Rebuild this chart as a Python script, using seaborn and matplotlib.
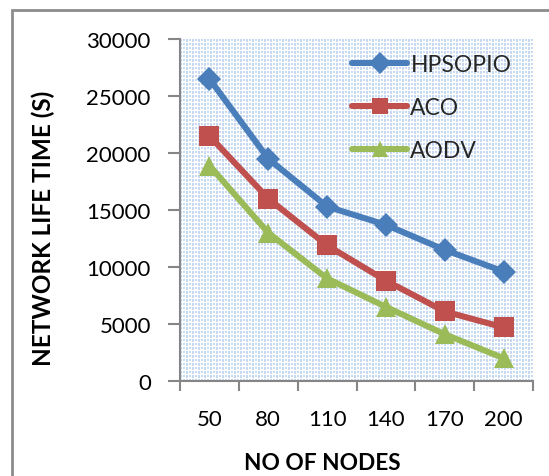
import numpy as np
import pandas as pd
import matplotlib
matplotlib.use("Agg")
import matplotlib.pyplot as plt
from matplotlib.colors import to_hex
from matplotlib.patches import Rectangle
import seaborn as sns

# Data
nodes = ["50", "80", "110", "140", "170", "200"]
hpsopio = [26500, 19500, 15300, 13700, 11500, 9600]
aco = [21500, 16000, 11900, 8800, 6100, 4700]
aodv = [18900, 13000, 9000, 6500, 4100, 2000]
series_names = ["HPSOPIO", "ACO", "AODV"]
y_ticks = [0, 5000, 10000, 15000, 20000, 25000, 30000]

colors = {"HPSOPIO": "#4a7ebb", "ACO": "#c0504d", "AODV": "#9bbb59"}
markers = {"HPSOPIO": "D", "ACO": "s", "AODV": "^"}
marker_sizes = {"HPSOPIO": 12, "ACO": 14, "AODV": 14}

rows = []
for name, vals in zip(series_names, [hpsopio, aco, aodv]):
    for i, v in enumerate(vals):
        rows.append({"pos": i, "nodes": nodes[i], "value": v, "series": name})
df = pd.DataFrame(rows)

sns.set_theme(style="white")
plt.rcParams["font.family"] = ["Lato", "DejaVu Sans"]

W, H = 549, 477
fig = plt.figure(figsize=(W / 100, H / 100), dpi=100)
ax = fig.add_axes([180 / W, 1 - 382 / H, (533 - 180) / W, (382 - 40) / H])

# outer chart border (left and top visible)
fig.patches.append(Rectangle((12 / W, -0.1), 1.2, 1 - 11 / H + 0.1,
                             transform=fig.transFigure, fill=False,
                             edgecolor="#8c8c8c", linewidth=2, zorder=0))

# dotted light-blue fill of the plot area
aw, ah = 353, 342
yy, xx = np.mgrid[0:ah, 0:aw]
cx, cy = xx % 6, yy % 4
mask = ((cx < 2) & (cy < 3)) | (((cx == 3) | (cx == 4)) & (cy < 2))
img = np.ones((ah, aw, 3))
blue = np.array([0xc6, 0xd9, 0xf1]) / 255.0
img[mask] = blue
ax.imshow(img, extent=[-0.5, 5.5, 0, 30000], aspect="auto",
          interpolation="nearest", zorder=0)

sns.lineplot(data=df, x="pos", y="value", hue="series", style="series",
             hue_order=series_names, style_order=series_names,
             palette=colors, markers=markers, dashes=False,
             linewidth=4.4, markersize=12, markeredgewidth=0,
             ax=ax, zorder=3, legend=True)

# per-series marker size
color_to_name = {to_hex(c): n for n, c in colors.items()}
for line in ax.lines:
    name = color_to_name.get(to_hex(line.get_color()))
    if name:
        line.set_markersize(marker_sizes[name])

ax.set_xlim(-0.5, 5.5)
ax.set_ylim(0, 30000)
ax.set_yticks(y_ticks)
ax.set_yticklabels([str(t) for t in y_ticks])
ax.set_xticks(range(len(nodes)))
ax.set_xticklabels(nodes)
ax.set_xticks(np.arange(-0.5, 6, 1), minor=True)

for s in ["top", "right"]:
    ax.spines[s].set_visible(False)
for s in ["left", "bottom"]:
    ax.spines[s].set_color("#868686")
    ax.spines[s].set_linewidth(1.5)

ax.tick_params(axis="y", which="major", direction="out", length=9, width=1.5,
               color="#868686", labelsize=16, pad=12, left=True)
ax.tick_params(axis="x", which="major", length=0, labelsize=16, pad=20)
ax.tick_params(axis="x", which="minor", direction="out", length=7, width=1.5,
               color="#868686", bottom=True)
for lbl in ax.get_xticklabels() + ax.get_yticklabels():
    lbl.set_color("#000000")

ax.set_xlabel("NO OF NODES", fontsize=16.3, fontweight="bold", color="#000000")
ax.set_ylabel("NETWORK LIFE TIME (S)", fontsize=17.5, fontweight="bold", color="#000000")
ax.xaxis.set_label_coords((322 - 180) / 353, -(453 - 382) / 342)
ax.yaxis.set_label_coords(-(180 - 55) / 353, (382 - 228) / 342)

leg = ax.legend(loc="upper left", bbox_to_anchor=((352 - 180) / 353, 1 - (55 - 40) / 342),
                frameon=False, fontsize=16.5, handlelength=2.4, handletextpad=0.15,
                labelspacing=0.95, borderaxespad=0, borderpad=0)
for line in leg.get_lines():
    line.set_linewidth(4.4)
    line.set_markersize(11)

fig.savefig("out.png", dpi=100)
